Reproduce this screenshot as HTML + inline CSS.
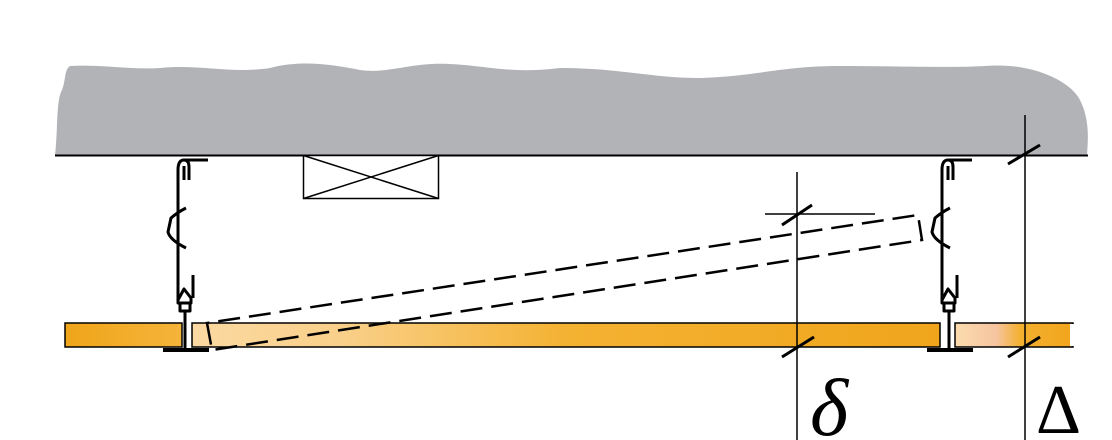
<!DOCTYPE html>
<html><head><meta charset="utf-8"><style>
html,body{margin:0;padding:0;background:#fff;width:1112px;height:440px;overflow:hidden}
</style></head><body>
<svg width="1112" height="440" viewBox="0 0 1112 440" xmlns="http://www.w3.org/2000/svg">
<defs>
<linearGradient id="gL" x1="0" x2="1"><stop offset="0" stop-color="#f0a51a"/><stop offset="1" stop-color="#f4b43a"/></linearGradient>
<linearGradient id="gM" x1="0" x2="1"><stop offset="0" stop-color="#fbd9a2"/><stop offset="0.2" stop-color="#f9d08a"/><stop offset="0.5" stop-color="#f4b232"/><stop offset="1" stop-color="#f0a51c"/></linearGradient>
<linearGradient id="gR" x1="0" x2="1"><stop offset="0" stop-color="#fbdcae"/><stop offset="0.35" stop-color="#f6c4a0"/><stop offset="0.55" stop-color="#f4b030"/><stop offset="1" stop-color="#f2a51c"/></linearGradient>
</defs>
<path d="M70,66 C100,64 130,70 160,68 C200,64 230,74 270,68 C300,60 330,64 360,70 C390,74 410,62 450,64 C490,66 510,74 560,68 C620,68 650,78 700,78 C760,76 780,66 840,66 C900,66 950,68 985,66 C1030,62 1070,80 1080,100 C1090,120 1088,140 1087,155 L55,155 C58,130 56,100 62,90 C66,80 64,70 70,66 Z" fill="#b1b3b6"/>
<line x1="55" y1="155.5" x2="1088" y2="155.5" stroke="#000" stroke-width="2"/>
<rect x="303.5" y="155.5" width="135" height="43" fill="#fff" stroke="#000" stroke-width="1.5"/>
<line x1="303.5" y1="155.5" x2="438.5" y2="198.5" stroke="#000" stroke-width="1.5"/>
<line x1="438.5" y1="155.5" x2="303.5" y2="198.5" stroke="#000" stroke-width="1.5"/>
<rect x="65" y="323" width="117" height="24" fill="url(#gL)" stroke="#000" stroke-width="1.5"/>
<rect x="192" y="323" width="748" height="24" fill="url(#gM)" stroke="#000" stroke-width="1.5"/>
<rect x="955" y="323" width="118" height="24" fill="url(#gR)" stroke="#000" stroke-width="1.5"/>
<rect x="1070" y="324" width="4" height="22" fill="#fff"/>
<g id="h" fill="none" stroke="#000" stroke-width="3" stroke-linejoin="round">
<path d="M184,160 L208,160"/>
<path d="M178,300 L178,170 Q178,160 184,160 Q189,160 189,167 L189,180"/>
<path d="M184,166 L184,180"/>
<path d="M186,208 Q178,212 171,218 L168,232 Q170,240 186,248"/>
<path d="M178,300 L184,289 L191,298 L191,303 L178,303 Z"/>
<path d="M193,275 L193,298"/>
<rect x="180" y="303" width="10" height="8"/>
<path d="M185,311 L185,350"/>
<path d="M163,350 L209,350" stroke-width="4"/>
</g>
<use href="#h" x="764" y="0"/>
<polygon points="207,323 212,350 922,240 918,215" fill="none" stroke="#000" stroke-width="2.5" stroke-dasharray="22,9"/>
<g stroke="#000" stroke-width="1.5" fill="none">
<line x1="797" y1="172" x2="797" y2="440"/>
<line x1="1025" y1="115" x2="1025" y2="440"/>
<line x1="765" y1="214" x2="875" y2="214"/>
</g>
<g stroke="#000" stroke-width="3">
<line x1="782" y1="225" x2="812" y2="205"/>
<line x1="782" y1="357" x2="814" y2="337"/>
<line x1="1008" y1="164" x2="1040" y2="145"/>
<line x1="1008" y1="357" x2="1040" y2="337"/>
</g>
<text x="810" y="435" font-family="Liberation Serif, serif" font-style="italic" font-size="82" fill="#000">δ</text>
<text x="1036" y="433" font-family="Liberation Serif, serif" font-size="70" fill="#000">Δ</text>
</svg>
</body></html>
